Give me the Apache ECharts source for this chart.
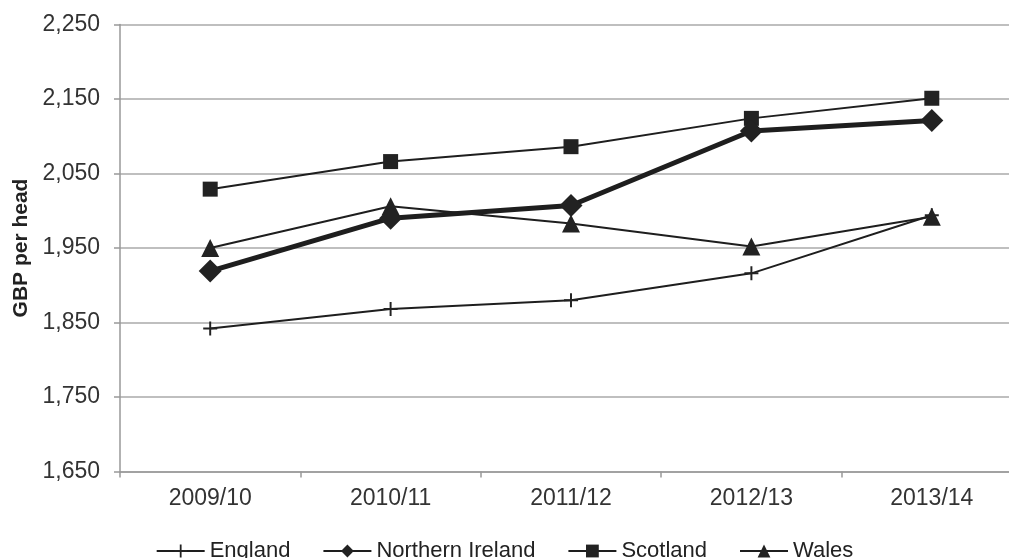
<!DOCTYPE html>
<html><head><meta charset="utf-8">
<script src="https://cdn.jsdelivr.net/npm/echarts@6/dist/echarts.min.js"></script>
<style>html,body{margin:0;padding:0;background:#fff}#c{width:1009px;height:558px}</style>
</head><body><div id="c"></div>
<script>
const categories = ['2009/10','2010/11','2011/12','2012/13','2013/14'];
const england = [1842, 1868, 1880, 1916, 1994];
const northernIreland = [1919, 1990, 2007, 2107, 2121];
const scotland = [2029, 2066, 2086, 2124, 2151];
const wales = [1950, 2006, 1983, 1952, 1992];
const yTicks = [1650, 1750, 1850, 1950, 2050, 2150, 2250];

const plus = 'path://M4.3,0 L5.7,0 L5.7,4.3 L10,4.3 L10,5.7 L5.7,5.7 L5.7,10 L4.3,10 L4.3,5.7 L0,5.7 L0,4.3 L4.3,4.3 Z';
const chart = echarts.init(document.getElementById('c'));
const font = 'Liberation Sans, Arial, sans-serif';
function s(name, data, symbol, size, width) {
  return { name, type: 'line', data, symbol, symbolSize: size,
    lineStyle: { color: '#1e1e1e', width }, itemStyle: { color: '#222' }, z: width > 2 ? 3 : 2 };
}
chart.setOption({
  animation: false,
  textStyle: { fontFamily: font },
  grid: { left: 120, top: 24.5, width: 902, height: 447, outerBoundsMode: 'none', containLabel: false },
  xAxis: { type: 'category', data: categories, boundaryGap: true,
    axisLine: { lineStyle: { color: '#999', width: 1.5 } },
    axisTick: { show: true, length: 6, inside: false, lineStyle: { color: '#999', width: 1.5 } },
    axisLabel: { color: '#333', fontSize: 23, margin: 16, fontFamily: font } },
  yAxis: { type: 'value', min: yTicks[0], max: yTicks[yTicks.length-1], interval: 100,
    name: 'GBP per head', nameLocation: 'middle', nameGap: 87,
    nameTextStyle: { color: '#222', fontSize: 21, fontWeight: 'bold', fontFamily: font },
    axisLine: { show: true, lineStyle: { color: '#999', width: 1.5 } },
    axisTick: { show: true, length: 6, lineStyle: { color: '#999', width: 1.5 } },
    splitLine: { lineStyle: { color: '#aaa', width: 1.5 } },
    axisLabel: { color: '#333', fontSize: 23, margin: 20, fontFamily: font,
      formatter: v => v.toLocaleString('en-US') } },
  legend: { bottom: -9, left: 'center', itemWidth: 48, itemHeight: 16, itemGap: 32,
    textStyle: { color: '#222', fontSize: 22, fontFamily: font },
    data: ['England','Northern Ireland','Scotland','Wales'] },
  series: [
    s('England', england, plus, 14, 2),
    s('Northern Ireland', northernIreland, 'diamond', 23, 5),
    s('Scotland', scotland, 'rect', 15, 2),
    s('Wales', wales, 'triangle', 18, 2)
  ]
});
</script></body></html>
